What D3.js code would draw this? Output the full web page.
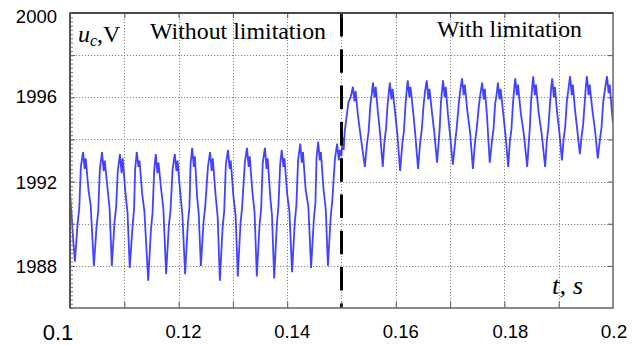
<!DOCTYPE html>
<html><head><meta charset="utf-8">
<script src="https://cdn.jsdelivr.net/npm/d3@7"></script>
<style>html,body{margin:0;padding:0;background:#fff}svg{display:block}</style>
</head><body>
<svg id="chart" width="640" height="345"></svg>
<script>
// ---------------- data ----------------
// time in milliseconds, capacitor voltage in volts
const tWithout = [
100.0,100.3,100.6,
100.9,101.4,101.7,102.0,102.4,102.7,102.9,103.4,103.8,
104.4,104.9,105.2,105.5,105.9,106.2,106.4,106.9,107.3,
107.7,108.2,108.5,108.8,109.2,109.5,109.7,110.2,110.6,
111.0,111.5,111.8,112.0,112.3,112.6,112.8,113.3,113.7,
114.4,114.9,115.2,115.5,115.8,116.1,116.3,116.8,117.2,
117.7,118.2,118.5,118.9,119.3,119.6,119.8,120.3,120.7,
121.2,121.7,122.0,122.2,122.5,122.8,123.0,123.4,123.7,
124.1,124.6,124.9,125.4,125.8,126.1,126.3,126.8,127.2,
127.6,128.1,128.4,128.7,129.1,129.4,129.6,130.1,130.5,
130.9,131.4,131.7,132.2,132.6,132.9,133.1,133.6,134.0,
134.4,134.9,135.2,135.5,135.9,136.2,136.4,136.9,137.2,
137.6,138.1,138.4,138.7,139.0,139.3,139.5,140.0,140.4,
140.9,141.4,141.7,142.0,142.4,142.7,142.9,143.4,143.9,
144.4,144.9,145.2,145.4,145.7,146.0,146.2,146.7,147.1,
147.5,148.0,148.3,148.8,149.2,149.5,149.7,150.0
];
const uWithout = [
1991.5,1990.4,1989.2,
1988.2,1990.0,1990.7,1992.7,1993.4,1992.6,1993.1,1991.6,1990.9,
1988.0,1989.9,1990.6,1992.6,1993.4,1992.5,1993.0,1991.7,1990.7,
1988.0,1990.1,1990.8,1992.5,1993.3,1992.4,1993.1,1991.5,1990.5,
1987.9,1989.8,1990.7,1992.6,1993.4,1992.7,1993.0,1991.4,1990.6,
1987.3,1989.7,1990.5,1992.5,1993.3,1992.4,1992.9,1991.6,1990.7,
1987.6,1989.9,1990.6,1992.6,1993.3,1992.5,1993.0,1991.5,1990.4,
1987.6,1990.0,1990.8,1992.8,1993.6,1992.7,1993.2,1991.3,1990.5,
1988.0,1990.1,1990.8,1992.7,1993.4,1992.5,1993.1,1991.4,1990.3,
1987.3,1989.8,1990.6,1992.8,1993.5,1992.6,1993.0,1991.3,1990.4,
1987.5,1990.0,1990.8,1992.9,1993.6,1992.7,1993.2,1991.5,1990.5,
1987.5,1989.9,1990.7,1992.9,1993.6,1992.6,1993.1,1991.2,1990.4,
1987.4,1990.0,1990.9,1992.8,1993.5,1992.7,1993.1,1991.4,1990.6,
1987.7,1990.1,1990.9,1993.0,1993.8,1992.9,1993.4,1991.6,1990.8,
1987.9,1990.2,1991.0,1993.1,1993.9,1993.0,1993.4,1991.6,1990.7,
1988.0,1990.3,1991.1,1993.1,1993.8,1993.0,1993.5,1993.2
];
const tWith = [
150.2,150.4,150.6,150.9,151.3,151.7,152.1,152.4,152.6,153.0,153.5,
154.3,154.7,155.0,155.3,155.6,155.8,156.1,156.3,156.7,157.1,
157.6,157.9,158.2,158.5,158.7,158.9,159.2,159.4,159.9,160.3,
160.8,161.2,161.5,161.8,162.0,162.2,162.5,162.7,163.2,163.6,
164.1,164.5,164.8,165.1,165.4,165.7,166.0,166.2,166.7,167.1,
167.6,167.9,168.1,168.3,168.5,168.7,169.0,169.2,169.6,170.0,
170.5,170.9,171.2,171.6,171.9,172.2,172.5,172.7,173.2,173.7,
174.2,174.6,174.9,175.3,175.6,175.9,176.2,176.4,176.8,177.0,
177.3,177.7,178.0,178.3,178.6,178.8,179.1,179.3,179.8,180.2,
180.7,181.0,181.3,181.6,181.8,182.0,182.3,182.5,183.0,183.6,
184.2,184.5,184.7,184.9,185.1,185.3,185.6,185.8,186.3,186.9,
187.5,187.8,188.1,188.4,188.6,188.8,189.1,189.3,189.7,190.1,
190.6,190.9,191.2,191.5,191.8,192.1,192.4,192.6,193.0,193.4,
193.9,194.2,194.5,194.8,195.0,195.2,195.5,195.7,196.2,196.7,
197.2,197.6,197.9,198.2,198.6,198.9,199.2,199.4,199.8,200.0
];
const uWith = [
1994.1,1993.5,1994.4,1995.0,1995.8,1996.0,1996.5,1995.8,1996.3,1995.2,1994.2,
1992.7,1993.8,1994.4,1995.6,1996.2,1996.7,1996.0,1996.5,1995.3,1994.3,
1992.7,1993.9,1994.5,1995.7,1996.2,1996.7,1995.9,1996.4,1995.2,1994.2,
1992.5,1993.8,1994.4,1995.7,1996.3,1996.8,1996.0,1996.5,1995.3,1994.2,
1992.6,1993.9,1994.5,1995.6,1996.3,1996.8,1995.9,1996.4,1995.2,1994.3,
1992.9,1993.9,1994.6,1995.7,1996.3,1996.8,1996.0,1996.5,1995.2,1994.2,
1992.8,1993.8,1994.5,1995.7,1996.4,1996.9,1996.1,1996.6,1995.3,1994.3,
1992.6,1993.9,1994.5,1995.6,1996.2,1996.7,1995.9,1996.4,1995.1,1994.2,
1992.9,1993.9,1994.5,1995.7,1996.2,1996.7,1995.9,1996.4,1995.2,1994.2,
1992.7,1993.9,1994.5,1995.8,1996.4,1996.9,1996.1,1996.6,1995.3,1994.2,
1992.7,1993.9,1994.6,1995.8,1996.4,1997.0,1996.1,1996.6,1995.3,1994.2,
1992.7,1993.9,1994.6,1995.7,1996.4,1996.9,1996.0,1996.5,1995.3,1994.4,
1993.0,1994.0,1994.6,1995.8,1996.4,1997.0,1996.1,1996.6,1995.4,1994.5,
1993.3,1994.1,1994.7,1995.8,1996.5,1997.0,1996.1,1996.6,1995.4,1994.4,
1993.1,1994.0,1994.6,1995.8,1996.5,1997.0,1996.2,1996.6,1995.3,1994.8
];
const switchTime = 0.15;
const xTickValues = [0.1, 0.12, 0.14, 0.16, 0.18, 0.2];
const xTickLabels = ["0.1", "0.12", "0.14", "0.16", "0.18", "0.2"];
const xGridValues = [0.11, 0.12, 0.13, 0.14, 0.15, 0.16, 0.17, 0.18, 0.19];
const yTickValues = [1988, 1992, 1996, 2000];
const yTickLabels = ["1988", "1992", "1996", "2000"];
const yGridValues = [1988, 1990, 1992, 1994, 1996, 1998];
const regionLabels = ["Without limitation", "With limitation"];

// ---------------- layout ----------------
const L = 70, R = 613, T = 13, B = 308;
const svg = d3.select("#chart");
const x = d3.scaleLinear().domain([0.1, 0.2]).range([L, R]);
const y = d3.scaleLinear().domain([1986, 2000]).range([B, T]);
const sans = "'Liberation Sans', Arial, Helvetica, sans-serif";
const serif = "'Liberation Serif', 'Times New Roman', Times, serif";

svg.append("rect").attr("width", 640).attr("height", 345).attr("fill", "#fff");

// grid
const grid = svg.append("g").attr("stroke", "#8a8a8a").attr("stroke-width", 1)
  .attr("stroke-dasharray", "1.2,1.8");
grid.selectAll(".gx").data(xGridValues).join("line")
  .attr("x1", d => Math.round(x(d)) + 0.5).attr("x2", d => Math.round(x(d)) + 0.5)
  .attr("y1", T).attr("y2", B);
grid.selectAll(".gy").data(yGridValues).join("line")
  .attr("y1", d => Math.round(y(d)) + 0.5).attr("y2", d => Math.round(y(d)) + 0.5)
  .attr("x1", L).attr("x2", R);

// signal
const pts = tWithout.map((t, i) => [t / 1000, uWithout[i]])
  .concat(tWith.map((t, i) => [t / 1000, uWith[i]]));
svg.append("clipPath").attr("id", "clip").append("rect")
  .attr("x", L).attr("y", T).attr("width", R - L).attr("height", B - T);
svg.append("path").datum(pts)
  .attr("clip-path", "url(#clip)")
  .attr("fill", "none").attr("stroke", "#2f2fff").attr("stroke-opacity", 0.9)
  .attr("stroke-width", 1.8).attr("stroke-linejoin", "miter")
  .attr("d", d3.line().x(d => x(d[0])).y(d => y(d[1])));

// switching line
svg.append("line")
  .attr("x1", x(switchTime)).attr("x2", x(switchTime)).attr("y1", T).attr("y2", B)
  .attr("stroke", "#000").attr("stroke-width", 3).attr("stroke-dasharray", "23.5,12.8");

// axes ticks (inward)
const axStyle = g => { g.select(".domain").remove(); g.selectAll("line").attr("stroke", "#555"); };
svg.append("g").attr("transform", `translate(0,${B})`)
  .call(d3.axisBottom(x).tickValues(xGridValues).tickSize(-6).tickFormat(""))
  .call(axStyle);
svg.append("g").attr("transform", `translate(0,${T})`)
  .call(d3.axisTop(x).tickValues(xGridValues).tickSize(-5).tickFormat(""))
  .call(axStyle);
svg.append("g").attr("transform", `translate(${L},0)`)
  .call(d3.axisLeft(y).tickValues(yGridValues).tickSize(-5).tickFormat(""))
  .call(axStyle);
svg.append("g").attr("transform", `translate(${R},0)`)
  .call(d3.axisRight(y).tickValues(yGridValues).tickSize(-5).tickFormat(""))
  .call(axStyle);
// minor ticks on left edge
svg.append("g").attr("transform", `translate(${L},0)`)
  .call(d3.axisLeft(y).ticks(70).tickSize(-3).tickFormat(""))
  .call(g => { g.select(".domain").remove(); g.selectAll("line").attr("stroke", "#777"); });

// frame
svg.append("rect").attr("x", L).attr("y", T).attr("width", R - L).attr("height", B - T)
  .attr("fill", "none").attr("stroke", "#666").attr("stroke-width", 1.5);
svg.append("line").attr("x1", L).attr("x2", R).attr("y1", T).attr("y2", T)
  .attr("stroke", "#333").attr("stroke-width", 1.5);
svg.append("line").attr("x1", L).attr("x2", L).attr("y1", T).attr("y2", B)
  .attr("stroke", "#555").attr("stroke-width", 2);

// y tick labels
const yLabelShift = [0, 1, -1, 3];
svg.append("g").selectAll("text").data(yTickValues).join("text")
  .attr("x", 57).attr("y", (d, i) => y(d) + yLabelShift[i]).attr("dy", "0.36em")
  .attr("text-anchor", "end").attr("font-family", sans).attr("font-size", 18.5)
  .attr("fill", "#000").text((d, i) => yTickLabels[i]);

// x tick labels
const xLabelShift = [-12, 5, 5, 5, 6, 1];
const xLabelSize = [22, 18.5, 18.5, 18.5, 18.5, 19];
const xLabelBase = [340, 338, 338, 338, 338, 338];
svg.append("g").selectAll("text").data(xTickValues).join("text")
  .attr("x", (d, i) => x(d) + xLabelShift[i]).attr("y", (d, i) => xLabelBase[i])
  .attr("text-anchor", "middle").attr("font-family", sans)
  .attr("font-size", (d, i) => xLabelSize[i])
  .attr("fill", "#000").text((d, i) => xTickLabels[i]);

// y axis title u_c,V
const yt = svg.append("text").attr("x", 78).attr("y", 41.5)
  .attr("font-family", serif).attr("font-size", 24).attr("fill", "#000");
yt.append("tspan").attr("font-style", "italic").text("u");
yt.append("tspan").attr("font-style", "italic").attr("font-size", 16).attr("dy", 4).text("c");
yt.append("tspan").attr("dy", -4).text(",V");

// region labels
svg.append("text").attr("x", 150).attr("y", 38.5)
  .attr("font-family", serif).attr("font-size", 23).attr("fill", "#000")
  .attr("textLength", 176).attr("lengthAdjust", "spacingAndGlyphs")
  .text(regionLabels[0]);
svg.append("text").attr("x", 437).attr("y", 36.5)
  .attr("font-family", serif).attr("font-size", 23).attr("fill", "#000")
  .attr("textLength", 145).attr("lengthAdjust", "spacingAndGlyphs")
  .text(regionLabels[1]);

// x axis title t, s
svg.append("text").attr("x", 552).attr("y", 294)
  .attr("font-family", serif).attr("font-size", 25).attr("font-style", "italic")
  .attr("fill", "#000").attr("textLength", 31).attr("lengthAdjust", "spacingAndGlyphs")
  .text("t, s");
</script>
</body></html>
